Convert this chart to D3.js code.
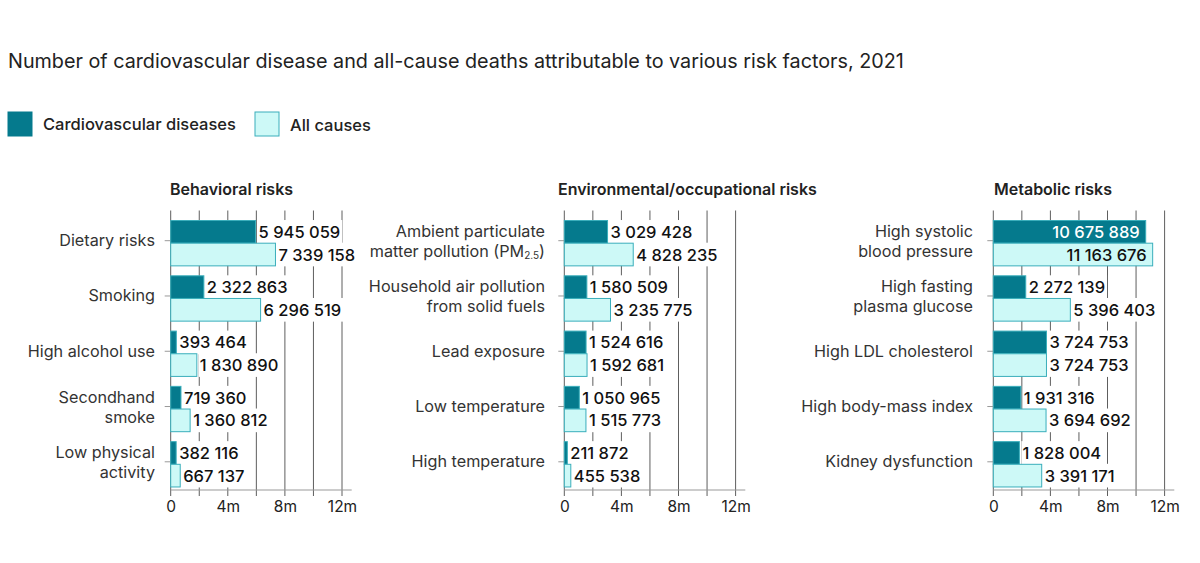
<!DOCTYPE html>
<html>
<head>
<meta charset="utf-8">
<script src="https://cdn.jsdelivr.net/npm/d3@7"></script>
<style>
  body { margin: 0; background: #fff; }
  svg { font-family: Inter, "Noto Sans", sans-serif; }
</style>
</head>
<body>
<svg id="chart" width="1200" height="563"></svg>
<script>
// ---- data ----
var behavioralRisks = ["Dietary risks", "Smoking", "High alcohol use", "Secondhand|smoke", "Low physical|activity"];
var behavioralCvd = [5945059, 2322863, 393464, 719360, 382116];
var behavioralAll = [7339158, 6296519, 1830890, 1360812, 667137];

var environmentalRisks = ["Ambient particulate|matter pollution (PM2.5)", "Household air pollution|from solid fuels", "Lead exposure", "Low temperature", "High temperature"];
var environmentalCvd = [3029428, 1580509, 1524616, 1050965, 211872];
var environmentalAll = [4828235, 3235775, 1592681, 1515773, 455538];

var metabolicRisks = ["High systolic|blood pressure", "High fasting|plasma glucose", "High LDL cholesterol", "High body-mass index", "Kidney dysfunction"];
var metabolicCvd = [10675889, 2272139, 3724753, 1931316, 1828004];
var metabolicAll = [11163676, 5396403, 3724753, 3694692, 3391171];

var panelTitles = ["Behavioral risks", "Environmental/occupational risks", "Metabolic risks"];
var seriesNames = ["Cardiovascular diseases", "All causes"];
var xTicks = [0, 4e6, 8e6, 12e6];
var gridTicks = [0, 2e6, 4e6, 6e6, 8e6, 10e6, 12e6];

// ---- style ----
var darkFill = "#057a8d",
    lightFill = "#cdf9f7",
    barStroke = "#3aaebb",
    gridColor = "#5e5e5e";

var svg = d3.select("#chart");
var fmt = d3.formatLocale({ decimal: ".", thousands: " ", grouping: [3], currency: ["", ""] }).format(",d");

svg.append("text")
   .attr("x", 8).attr("y", 68)
   .attr("font-size", 19.75).attr("fill", "#222")
   .text("Number of cardiovascular disease and all-cause deaths attributable to various risk factors, 2021");

// legend
var legend = svg.append("g").attr("class", "legend");
[[8, 43, darkFill, darkFill], [255, 290, lightFill, barStroke]].forEach(function(d, i) {
  legend.append("rect").attr("x", d[0]).attr("y", 112).attr("width", 24).attr("height", 24)
        .attr("fill", d[2]).attr("stroke", d[3]);
  legend.append("text").attr("x", d[1]).attr("y", 130 + i)
        .attr("font-size", 16.5).attr("font-weight", 500).attr("fill", "#222")
        .text(seriesNames[i]);
});

var panels = [
  { x0: 170.7, titleX: 170, names: behavioralRisks, cvd: behavioralCvd, all: behavioralAll, labelX: 155 },
  { x0: 564.3, titleX: 558, names: environmentalRisks, cvd: environmentalCvd, all: environmentalAll, labelX: 545 },
  { x0: 993.3, titleX: 994, names: metabolicRisks, cvd: metabolicCvd, all: metabolicAll, labelX: 973 }
];

var plotTop = 210.5, plotBottom = 490;

panels.forEach(function(p, pi) {

  var g = svg.append("g").attr("class", "panel");

  var x = d3.scaleLinear().domain([0, 12e6]).range([p.x0, p.x0 + 171.3]);
  var y = d3.scaleBand().domain(p.names).range([215, 492.5]).paddingInner(0.18).paddingOuter(0.1);
  var bh = y.bandwidth() / 2;

  g.append("text").attr("x", p.titleX).attr("y", 195)
   .attr("font-size", 16).attr("font-weight", 600).attr("fill", "#222")
   .text(panelTitles[pi]);

  // gridlines (behind bars)
  g.append("g").selectAll("line").data(gridTicks).join("line")
   .attr("x1", function(d) { return x(d); }).attr("x2", function(d) { return x(d); })
   .attr("y1", plotTop).attr("y2", plotBottom + 6)
   .attr("stroke", gridColor).attr("stroke-width", 1);

  // bottom axis line
  g.append("line").attr("x1", p.x0).attr("x2", p.x0 + 181).attr("y1", plotBottom).attr("y2", plotBottom)
   .attr("stroke", "#999");

  var xAxis = d3.axisBottom(x).tickValues(xTicks).tickSize(0).tickPadding(0)
                .tickFormat(function(d) { return d === 0 ? "0" : (d / 1e6) + "m"; });
  var ax = g.append("g").attr("transform", "translate(0," + (plotBottom + 11) + ")").call(xAxis);
  ax.select(".domain").remove();
  ax.selectAll("text").attr("font-size", 15.5).attr("fill", "#222").attr("font-family", "Inter, sans-serif");

  // y ticks
  g.append("g").selectAll("line").data(p.names).join("line")
   .attr("x1", p.x0 - 6).attr("x2", p.x0)
   .attr("y1", function(d) { return y(d) + bh - 2.5; }).attr("y2", function(d) { return y(d) + bh - 2.5; })
   .attr("stroke", "#999");

  // category labels
  var lab = g.append("g").selectAll("text").data(p.names).join("text")
   .attr("text-anchor", "end").attr("font-size", 16.2).attr("fill", "#333")
   .attr("x", p.labelX);
  lab.each(function(d) {
    var lines = d.split("|"), t = d3.select(this), cy = y(d) + bh - 2.5;
    lines.forEach(function(line, li) {
      var dy = lines.length === 1 ? 5.5 : (li === 0 ? -3.5 : 16.5);
      var ts = t.append("tspan").attr("x", p.labelX).attr("y", cy + dy);
      var m = line.match(/^(.*PM)(2\.5)(\))$/);
      if (m) {
        ts.text(m[1]);
        t.append("tspan").attr("font-size", 10).attr("dy", 2).text(m[2]);
        t.append("tspan").attr("dy", -2).text(m[3]);
      } else {
        ts.text(line);
      }
    });
  });

  // bars + value labels
  var series = [
    { vals: p.cvd, fill: darkFill, off: 0, inside: "#fff" },
    { vals: p.all, fill: lightFill, off: bh, inside: "#111" }
  ];

  series.forEach(function(s) {
    var bg = g.append("g");
    bg.selectAll("rect").data(p.names).join("rect")
      .attr("x", p.x0)
      .attr("y", function(d) { return y(d) + s.off; })
      .attr("width", function(d, i) { return x(s.vals[i]) - p.x0; })
      .attr("height", bh)
      .attr("fill", s.fill).attr("stroke", barStroke).attr("stroke-width", 1);

    p.names.forEach(function(d, i) {
      var v = s.vals[i], inside = v > 10e6;
      var lg = g.append("g");
      var tx = lg.append("text")
        .attr("x", inside ? x(v) - 6 : x(v) + 3)
        .attr("y", y(d) + s.off + bh / 2 + 6)
        .attr("text-anchor", inside ? "end" : "start")
        .attr("font-size", 16.5).attr("font-weight", 500)
        .attr("fill", inside ? s.inside : "#111")
        .text(fmt(v));
      if (!inside) {
        var bb = tx.node().getBBox();
        lg.insert("rect", "text")
          .attr("x", bb.x - 1).attr("y", y(d) + s.off - 0.5)
          .attr("width", bb.width + 3).attr("height", bh + 1)
          .attr("fill", "#fff");
      }
    });
  });

});
</script>
</body>
</html>
